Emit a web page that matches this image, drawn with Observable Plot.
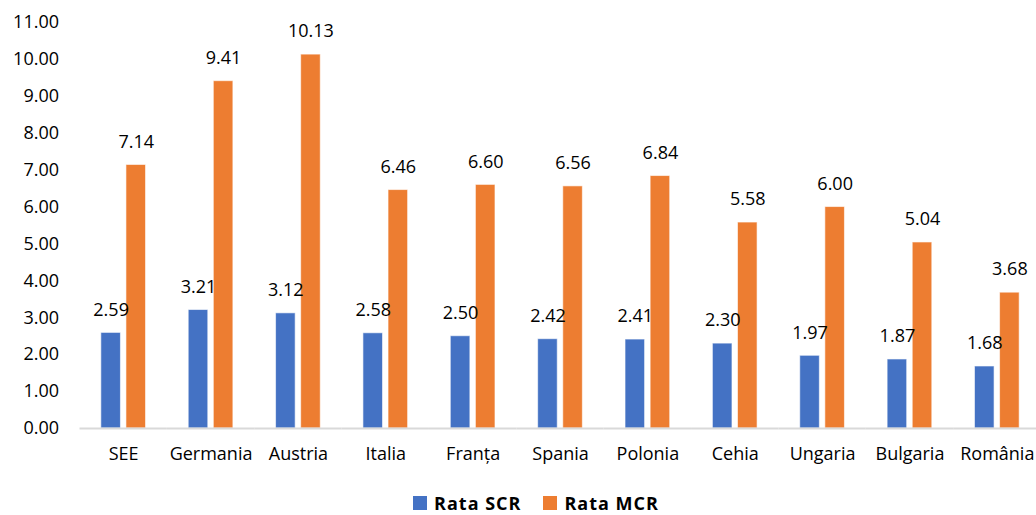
<!DOCTYPE html>
<html>
<head>
<meta charset="utf-8">
<script src="https://cdn.jsdelivr.net/npm/d3@7"></script>
<script src="https://cdn.jsdelivr.net/npm/@observablehq/plot@0.6"></script>
<style>
  body { margin: 0; background: #fff; font-family: "Open Sans", sans-serif; }
  #chart { width: 1036px; }
  .legend { display: flex; justify-content: center; align-items: center; padding-top: 21px; padding-left: 36px; font-weight: bold; font-size: 18px; letter-spacing: 1px; line-height: 16px; color: #000; }
  .legend .item { display: flex; align-items: center; margin: 0 11px; }
  .legend .sw { width: 14px; height: 14px; margin-right: 7px; display: inline-block; }
</style>
</head>
<body>
<div id="chart"></div>
<script>
const categories = ["SEE", "Germania", "Austria", "Italia", "Franța", "Spania", "Polonia", "Cehia", "Ungaria", "Bulgaria", "România"];
const seriesNames = ["Rata SCR", "Rata MCR"];
const scrValues = [2.59, 3.21, 3.12, 2.58, 2.50, 2.42, 2.41, 2.30, 1.97, 1.87, 1.68];
const mcrValues = [7.14, 9.41, 10.13, 6.46, 6.60, 6.56, 6.84, 5.58, 6.00, 5.04, 3.68];
const colors = ["#4472C4", "#ED7D31"];
const yTicks = [0, 1, 2, 3, 4, 5, 6, 7, 8, 9, 10, 11];

const data = [];
categories.forEach((c, i) => {
  data.push({cat: c, series: seriesNames[0], value: scrValues[i]});
  data.push({cat: c, series: seriesNames[1], value: mcrValues[i]});
});

const fmt = d3.format(".2f");

const plot = Plot.plot({
  width: 1036,
  height: 474,
  marginLeft: 80,
  marginRight: 0,
  marginTop: 22,
  marginBottom: 46,
  style: {fontFamily: "'Open Sans', sans-serif", fontSize: "18px", color: "#000", background: "#fff", overflow: "hidden"},
  fx: {domain: categories, padding: 0, round: false, range: [79.5, 1040.5], label: null, axis: "bottom", tickSize: 0, tickPadding: 19},
  x: {domain: seriesNames, axis: null, round: false, paddingInner: 0.22, paddingOuter: 0.85},
  y: {domain: [0, 11], ticks: yTicks, tickFormat: fmt, tickSize: 0, tickPadding: 21, label: null, line: false},
  color: {domain: seriesNames, range: colors},
  marks: [
    Plot.barY(data, {fx: "cat", x: "series", y: "value", fill: "series", stroke: "#fff", strokeOpacity: 0.6, strokeWidth: 1}),
    Plot.ruleY([0], {stroke: "#d9d9d9", strokeWidth: 2}),
    Plot.text(data, {fx: "cat", x: "series", y: "value", text: d => fmt(d.value), dy: -23, fill: "#000", fontSize: 18})
  ]
});
document.getElementById("chart").appendChild(plot);

const legend = document.createElement("div");
legend.className = "legend";
seriesNames.forEach((s, i) => {
  const item = document.createElement("div");
  item.className = "item";
  const sw = document.createElement("span");
  sw.className = "sw";
  sw.style.background = colors[i];
  item.appendChild(sw);
  item.appendChild(document.createTextNode(s));
  legend.appendChild(item);
});
document.getElementById("chart").appendChild(legend);
</script>
</body>
</html>
